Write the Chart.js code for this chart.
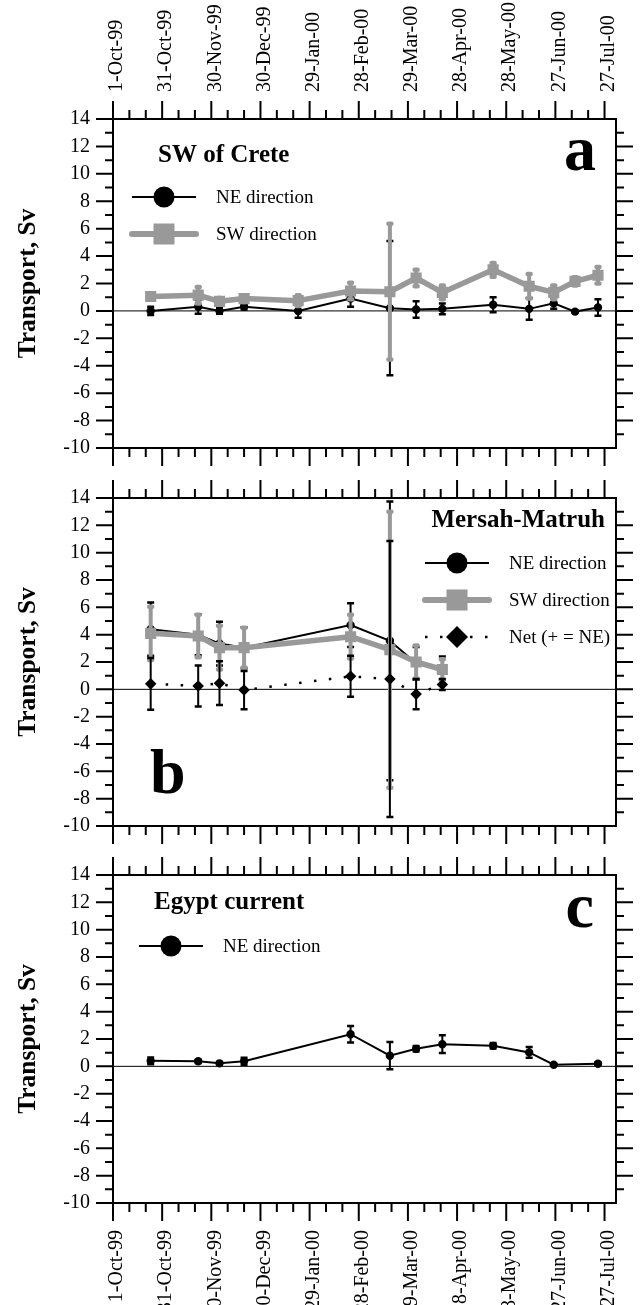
<!DOCTYPE html>
<html lang="en">
<head>
<meta charset="UTF-8">
<title>Transport, Sv</title>
<script src="https://cdn.jsdelivr.net/npm/chart.js@4"></script>
<style>
  body { margin: 0; background: #fff; }
  .painel { position: absolute; left: 0; }
</style>
</head>
<body>
<canvas id="crete" class="painel" width="640" height="472" style="top:0"></canvas>
<canvas id="matruh" class="painel" width="640" height="384" style="top:472px"></canvas>
<canvas id="egypt" class="painel" width="640" height="449" style="top:856px"></canvas>

<script>
// eixo x: dias desde 1-Oct-99
const dateTicks = [0, 30, 60, 90, 120, 150, 180, 210, 240, 270, 300];
const dateLabels = ['1-Oct-99', '31-Oct-99', '30-Nov-99', '30-Dec-99', '29-Jan-00', '28-Feb-00',
                    '29-Mar-00', '28-Apr-00', '28-May-00', '27-Jun-00', '27-Jul-00'];
const yTicks = [-10, -8, -6, -4, -2, 0, 2, 4, 6, 8, 10, 12, 14];
const xMax = 307;

// painel a - SW of Crete
const creteDays = [23, 52, 65, 80, 113, 145, 169, 185, 201, 232, 254, 269, 282, 296];
const creteNE = [0.0, 0.3, 0.0, 0.3, 0.0, 0.9, 0.2, 0.1, 0.15, 0.45, 0.15, 0.55, -0.05, 0.25];
const creteNEErr = [0.3, 0.5, 0.2, 0.2, 0.5, 0.6, 4.9, 0.6, 0.4, 0.55, 0.8, 0.4, 0.1, 0.6];
const creteSW = [1.05, 1.15, 0.7, 0.9, 0.75, 1.45, 1.4, 2.4, 1.35, 3.0, 1.8, 1.35, 2.15, 2.6];
const creteSWErr = [0.2, 0.6, 0.25, 0.25, 0.4, 0.6, 4.95, 0.6, 0.5, 0.5, 0.9, 0.5, 0.3, 0.6];

// painel b - Mersah-Matruh
const matruhDays = [23, 52, 65, 80, 145, 169, 185, 201];
const matruhNE = [4.4, 4.0, 3.35, 3.05, 4.7, 3.55, 1.9, 1.55];
const matruhNEErr = [1.95, 1.5, 1.6, 1.5, 1.6, 10.2, 1.2, 0.85];
const matruhSW = [4.1, 3.9, 3.05, 3.05, 3.85, 2.9, 2.0, 1.45];
const matruhSWErr = [1.95, 1.55, 1.6, 1.45, 1.6, 10.1, 1.2, 0.75];
const matruhNet = [0.4, 0.25, 0.45, -0.05, 0.95, 0.75, -0.35, 0.35];
const matruhNetErr = [1.9, 1.5, 1.6, 1.4, 1.5, 10.1, 1.1, 0.4];

// painel c - Egypt current
const egyptDays = [23, 52, 65, 80, 145, 169, 185, 201, 232, 254, 269, 296];
const egyptNE = [0.4, 0.37, 0.22, 0.37, 2.35, 0.78, 1.28, 1.62, 1.5, 1.02, 0.12, 0.19];
const egyptNEErr = [0.25, 0.12, 0.08, 0.25, 0.6, 1.0, 0.2, 0.65, 0.2, 0.4, 0.05, 0.1];

const SERIF = '"Liberation Serif", "Times New Roman", serif';
const GRAY = '#999999';

function pts(days, vals) {
    return days.map((d, i) => ({ x: d, y: vals[i] }));
}

// estilos das séries
function serieNE(days, vals, errs) {
    return {
        label: 'NE direction', data: pts(days, vals), errors: errs, order: 3,
        borderColor: '#000', backgroundColor: '#000', borderWidth: 2,
        pointStyle: 'circle', pointRadius: 3.2, tension: 0,
        errWidth: 2, capHalf: 3.5, capWidth: 2.5
    };
}
function serieSW(days, vals, errs) {
    return {
        label: 'SW direction', data: pts(days, vals), errors: errs, order: 2,
        borderColor: GRAY, backgroundColor: GRAY, borderWidth: 5.5,
        borderJoinStyle: 'round', borderCapStyle: 'round',
        pointStyle: 'rect', pointRadius: 4, tension: 0,
        errWidth: 4, capHalf: 1.5, capWidth: 4.5, capRound: true
    };
}
function serieNet(days, vals, errs) {
    return {
        label: 'Net (+ = NE)', data: pts(days, vals), errors: errs, order: 1,
        borderColor: '#000', backgroundColor: '#000', borderWidth: 2.5,
        borderDash: [2.5, 12.5], pointStyle: 'rectRot', pointRadius: 4, tension: 0,
        errWidth: 2, capHalf: 3.5, capWidth: 2.5
    };
}

function drawMarker(ctx, kind, x, y, size) {
    ctx.beginPath();
    if (kind === 'circle') {
        ctx.arc(x, y, size, 0, Math.PI * 2);
    } else if (kind === 'square') {
        ctx.rect(x - size, y - size, size * 2, size * 2);
    } else {
        ctx.moveTo(x - size, y); ctx.lineTo(x, y - size);
        ctx.lineTo(x + size, y); ctx.lineTo(x, y + size);
        ctx.closePath();
    }
    ctx.fill();
}

const legendStyles = {
    NE: { color: '#000', width: 2, dash: [], cap: 'butt', marker: 'circle', size: 10.5, text: 'NE direction' },
    SW: { color: GRAY, width: 6, dash: [], cap: 'round', marker: 'square', size: 10.5, text: 'SW direction' },
    Net: { color: '#000', width: 2.5, dash: [2.5, 12.5], cap: 'butt', marker: 'diamond', size: 11, text: 'Net (+ = NE)' }
};

const painel = {
    id: 'painel',
    beforeDatasetsDraw(chart) {
        const { ctx, chartArea: a } = chart;
        const y0 = chart.scales.y.getPixelForValue(0);
        ctx.save();
        ctx.strokeStyle = '#000';
        ctx.lineWidth = 1;
        ctx.beginPath();
        ctx.moveTo(a.left, y0);
        ctx.lineTo(a.right, y0);
        ctx.stroke();
        ctx.restore();
    },
    afterDatasetDraw(chart, args) {
        const ds = chart.data.datasets[args.index];
        if (!ds.errors) return;
        const { ctx } = chart;
        const sx = chart.scales.x, sy = chart.scales.y;
        ctx.save();
        ctx.strokeStyle = ds.borderColor;
        ds.data.forEach((p, i) => {
            const px = sx.getPixelForValue(p.x);
            const top = sy.getPixelForValue(p.y + ds.errors[i]);
            const bot = sy.getPixelForValue(p.y - ds.errors[i]);
            ctx.lineCap = 'butt';
            ctx.lineWidth = ds.errWidth;
            ctx.beginPath();
            ctx.moveTo(px, top);
            ctx.lineTo(px, bot);
            ctx.stroke();
            ctx.lineWidth = ds.capWidth;
            ctx.lineCap = ds.capRound ? 'round' : 'butt';
            ctx.beginPath();
            ctx.moveTo(px - ds.capHalf, top); ctx.lineTo(px + ds.capHalf, top);
            ctx.moveTo(px - ds.capHalf, bot); ctx.lineTo(px + ds.capHalf, bot);
            ctx.stroke();
        });
        ctx.restore();
    },
    afterDraw(chart, args, opts) {
        const { ctx, chartArea: a } = chart;
        const sx = chart.scales.x, sy = chart.scales.y;
        ctx.save();
        ctx.strokeStyle = '#000';
        ctx.fillStyle = '#000';
        ctx.lineWidth = 2;
        ctx.lineCap = 'butt';
        ctx.setLineDash([]);

        // moldura e marcas
        ctx.strokeRect(a.left, a.top, a.right - a.left, a.bottom - a.top);
        ctx.beginPath();
        yTicks.forEach(v => {
            const py = sy.getPixelForValue(v);
            ctx.moveTo(a.left - 17, py); ctx.lineTo(a.left, py);
            if (v > -10 && v < 14) { ctx.moveTo(a.right, py); ctx.lineTo(a.right + 17, py); }
            if (v < 14) {
                const pm = sy.getPixelForValue(v + 1);
                ctx.moveTo(a.left - 8, pm); ctx.lineTo(a.left, pm);
                ctx.moveTo(a.right, pm); ctx.lineTo(a.right + 8, pm);
            }
        });
        dateTicks.forEach(d => {
            const px = sx.getPixelForValue(d);
            ctx.moveTo(px, a.top - 18); ctx.lineTo(px, a.top);
            ctx.moveTo(px, a.bottom); ctx.lineTo(px, a.bottom + 18);
            [10, 20].forEach(m => {
                if (d + m > xMax) return;
                const pm = sx.getPixelForValue(d + m);
                ctx.moveTo(pm, a.top - 9); ctx.lineTo(pm, a.top);
                ctx.moveTo(pm, a.bottom); ctx.lineTo(pm, a.bottom + 9);
            });
        });
        ctx.stroke();

        // rótulos do eixo y
        ctx.font = '20px ' + SERIF;
        ctx.textAlign = 'right';
        ctx.textBaseline = 'middle';
        yTicks.forEach(v => ctx.fillText(String(v), a.left - 23, sy.getPixelForValue(v)));

        // datas
        if (opts.topDates || opts.bottomDates) {
            dateTicks.forEach((d, i) => {
                const px = sx.getPixelForValue(d);
                ctx.save();
                if (opts.topDates) {
                    ctx.translate(px, a.top - 27);
                    ctx.textAlign = 'left';
                } else {
                    ctx.translate(px, a.bottom + 27);
                    ctx.textAlign = 'right';
                }
                ctx.rotate(-Math.PI / 2);
                ctx.fillText(dateLabels[i], 0, 4);
                ctx.restore();
            });
        }

        // título do eixo
        ctx.save();
        ctx.translate(28, (a.top + a.bottom) / 2);
        ctx.rotate(-Math.PI / 2);
        ctx.font = 'bold 25.5px ' + SERIF;
        ctx.textAlign = 'center';
        ctx.fillText('Transport, Sv', 0, 0);
        ctx.restore();

        // título e letra do painel
        ctx.textBaseline = 'alphabetic';
        ctx.font = 'bold 25px ' + SERIF;
        ctx.textAlign = opts.title.align;
        ctx.fillText(opts.title.text, opts.title.align === 'left' ? a.left + opts.title.dx : a.right - opts.title.dx, a.top + opts.title.dy);
        ctx.font = 'bold 64px ' + SERIF;
        ctx.textAlign = opts.letter.align;
        ctx.fillText(opts.letter.text, opts.letter.align === 'left' ? a.left + opts.letter.dx : a.right - opts.letter.dx, a.top + opts.letter.dy);

        // legenda
        opts.legend.rows.forEach((key, i) => {
            const s = legendStyles[key];
            const lx = a.left + opts.legend.dx;
            const ly = a.top + opts.legend.dy + i * 37;
            ctx.strokeStyle = s.color;
            ctx.fillStyle = s.color;
            ctx.lineWidth = s.width;
            ctx.lineCap = s.cap;
            ctx.setLineDash(s.dash);
            ctx.beginPath();
            ctx.moveTo(lx, ly); ctx.lineTo(lx + 64, ly);
            ctx.stroke();
            ctx.setLineDash([]);
            drawMarker(ctx, s.marker, lx + 32, ly, s.size);
            ctx.fillStyle = '#000';
            ctx.font = '19px ' + SERIF;
            ctx.textAlign = 'left';
            ctx.textBaseline = 'middle';
            ctx.fillText(s.text, lx + 84, ly + 1);
        });
        ctx.restore();
    }
};

function makePanel(id, datasets, padTop, padBottom, deco) {
    return new Chart(document.getElementById(id), {
        type: 'line',
        data: { datasets: datasets },
        options: {
            responsive: false,
            animation: false,
            events: [],
            layout: { padding: { left: 113, right: 24, top: padTop, bottom: padBottom } },
            scales: {
                x: { type: 'linear', min: 0, max: xMax, display: false },
                y: { type: 'linear', min: -10, max: 14, display: false }
            },
            plugins: {
                legend: { display: false },
                tooltip: { enabled: false },
                painel: deco
            }
        },
        plugins: [painel]
    });
}

makePanel('crete', [
    serieNE(creteDays, creteNE, creteNEErr),
    serieSW(creteDays, creteSW, creteSWErr)
], 119, 24, {
    topDates: true,
    title: { text: 'SW of Crete', align: 'left', dx: 45, dy: 43 },
    letter: { text: 'a', align: 'right', dx: 20, dy: 51 },
    legend: { rows: ['NE', 'SW'], dx: 19, dy: 78 }
});

makePanel('matruh', [
    serieNE(matruhDays, matruhNE, matruhNEErr),
    serieSW(matruhDays, matruhSW, matruhSWErr),
    serieNet(matruhDays, matruhNet, matruhNetErr)
], 26, 30, {
    title: { text: 'Mersah-Matruh', align: 'right', dx: 11, dy: 29 },
    letter: { text: 'b', align: 'left', dx: 37, dy: 295 },
    legend: { rows: ['NE', 'SW', 'Net'], dx: 312, dy: 65 }
});

makePanel('egypt', [
    serieNE(egyptDays, egyptNE, egyptNEErr)
], 19, 102, {
    bottomDates: true,
    title: { text: 'Egypt current', align: 'left', dx: 41, dy: 34 },
    letter: { text: 'c', align: 'right', dx: 22, dy: 52 },
    legend: { rows: ['NE'], dx: 26, dy: 71 }
});
</script>
</body>
</html>
